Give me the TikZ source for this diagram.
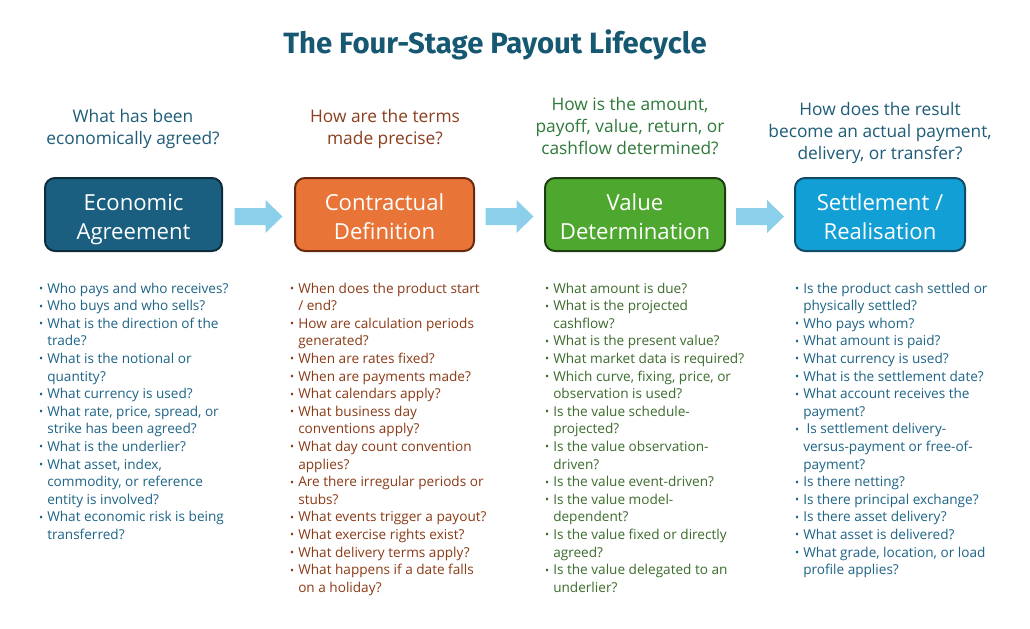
\documentclass[tikz,border=0pt]{standalone}
\usepackage{fontspec}
\setmainfont{Open Sans}
\newfontfamily\titlefont{Fira Sans}
\usetikzlibrary{calc}
\definecolor{titlec}{RGB}{22,88,114}
\definecolor{fillA}{RGB}{26,95,128}
\definecolor{drawA}{RGB}{14,44,60}
\definecolor{fillB}{RGB}{232,116,56}
\definecolor{drawB}{RGB}{104,42,14}
\definecolor{fillC}{RGB}{78,167,46}
\definecolor{drawC}{RGB}{30,62,18}
\definecolor{fillD}{RGB}{17,159,214}
\definecolor{drawD}{RGB}{16,76,104}
\definecolor{arrowc}{RGB}{139,207,234}
\definecolor{qA}{RGB}{30,92,120}
\definecolor{qB}{RGB}{139,63,30}
\definecolor{qC}{RGB}{46,122,58}
\definecolor{tA}{RGB}{30,100,134}
\definecolor{tB}{RGB}{139,58,22}
\definecolor{tC}{RGB}{60,107,44}
\newcommand\bulx{\llap{\raisebox{0.4pt}{\scalebox{0.8}{\textbullet}}\hspace{3pt}}}
\newcommand\stagetext[2]{\raisebox{-3.4pt}[\height][\depth]{\begin{tabular}{@{}c@{}}#1\\#2\end{tabular}}}
\newcommand\blockarr[2]{%
  \fill[arrowc] ($(#1)+(0,-8.5)$) -- ($(#2)+(-17,-8.5)$) -- ($(#2)+(-17,-16.5)$) -- (#2)
    -- ($(#2)+(-17,16.5)$) -- ($(#2)+(-17,8.5)$) -- ($(#1)+(0,8.5)$) -- cycle;}
\begin{document}
\begin{tikzpicture}[x=0.75pt,y=-0.75pt,
  stagebox/.style={rounded corners=7.5pt, line width=1.5pt, minimum height=54.75pt,
    text=white, inner sep=0pt, font=\fontsize{16.6}{21.75}\selectfont},
  question/.style={anchor=base, inner sep=0pt, font=\fontsize{13}{16.5}\selectfont},
  qlist/.style={anchor=base west, inner sep=0pt, font=\fontsize{10.2}{13.2}\selectfont}]
\useasboundingbox (0,0) rectangle (1030,628);
\fill[white] (0,0) rectangle (1030,628);
\node[anchor=base, inner sep=0pt, text=titlec, font=\titlefont\bfseries\fontsize{22}{27}\selectfont] (title) at (495,53) {The Four-Stage Payout Lifecycle};

\node[stagebox, minimum width=132.75pt, fill=fillA, draw=drawA] (b1) at (133.5,214.5) {\stagetext{Economic}{Agreement}};
\node[stagebox, minimum width=134.25pt, fill=fillB, draw=drawB] (b2) at (384.5,214.5) {\stagetext{Contractual}{Definition}};
\node[stagebox, minimum width=135pt, fill=fillC, draw=drawC] (b3) at (635,214.5) {\stagetext{Value}{Determination}};
\node[stagebox, minimum width=127.5pt, fill=fillD, draw=drawD] (b4) at (880,214.5) {\stagetext{Settlement /}{Realisation}};

\foreach \a/\b/\n in {b1/b2/1,b2/b3/2,b3/b4/3}{
  \coordinate (m\n) at ($(\a.east)!0.5!(\b.west)+(0,2)$);
  \coordinate (s\n) at ($(m\n)+(-24,0)$);
  \coordinate (e\n) at ($(m\n)+(24,0)$);
  \blockarr{s\n}{e\n}
}

\node[question, text=qA] (q1) at (133,122) {\begin{tabular}[t]{@{}c@{}}What has been\\economically agreed?\end{tabular}};
\node[question, text=qB] (q2) at (385,122) {\begin{tabular}[t]{@{}c@{}}How are the terms\\made precise?\end{tabular}};
\node[question, text=qC] (q3) at (630,110) {\begin{tabular}[t]{@{}c@{}}How is the amount,\\payoff, value, return, or\\cashflow determined?\end{tabular}};
\node[question, text=qA] (q4) at (880,115) {\begin{tabular}[t]{@{}c@{}}How does the result\\become an actual payment,\\delivery, or transfer?\end{tabular}};

\node[qlist, text=tA] (l1) at (47,293) {\begin{tabular}[t]{@{}l@{}}
\bulx Who pays and who receives?\\
\bulx Who buys and who sells?\\
\bulx What is the direction of the\\
trade?\\
\bulx What is the notional or\\
quantity?\\
\bulx What currency is used?\\
\bulx What rate, price, spread, or\\
strike has been agreed?\\
\bulx What is the underlier?\\
\bulx What asset, index,\\
commodity, or reference\\
entity is involved?\\
\bulx What economic risk is being\\
transferred?
\end{tabular}};

\node[qlist, text=tB] (l2) at (298,293) {\begin{tabular}[t]{@{}l@{}}
\bulx When does the product start\\
/ end?\\
\bulx How are calculation periods\\
generated?\\
\bulx When are rates fixed?\\
\bulx When are payments made?\\
\bulx What calendars apply?\\
\bulx What business day\\
conventions apply?\\
\bulx What day count convention\\
applies?\\
\bulx Are there irregular periods or\\
stubs?\\
\bulx What events trigger a payout?\\
\bulx What exercise rights exist?\\
\bulx What delivery terms apply?\\
\bulx What happens if a date falls\\
on a holiday?
\end{tabular}};

\node[qlist, text=tC] (l3) at (553,293) {\begin{tabular}[t]{@{}l@{}}
\bulx What amount is due?\\
\bulx What is the projected\\
cashflow?\\
\bulx What is the present value?\\
\bulx What market data is required?\\
\bulx Which curve, fixing, price, or\\
observation is used?\\
\bulx Is the value schedule-\\
projected?\\
\bulx Is the value observation-\\
driven?\\
\bulx Is the value event-driven?\\
\bulx Is the value model-\\
dependent?\\
\bulx Is the value fixed or directly\\
agreed?\\
\bulx Is the value delegated to an\\
underlier?
\end{tabular}};

\node[qlist, text=tA] (l4) at (803,293) {\begin{tabular}[t]{@{}l@{}}
\bulx Is the product cash settled or\\
physically settled?\\
\bulx Who pays whom?\\
\bulx What amount is paid?\\
\bulx What currency is used?\\
\bulx What is the settlement date?\\
\bulx What account receives the\\
payment?\\
\bulx\hspace{2.5pt}Is settlement delivery-\\
versus-payment or free-of-\\
payment?\\
\bulx Is there netting?\\
\bulx Is there principal exchange?\\
\bulx Is there asset delivery?\\
\bulx What asset is delivered?\\
\bulx What grade, location, or load\\
profile applies?
\end{tabular}};
\end{tikzpicture}
\end{document}
